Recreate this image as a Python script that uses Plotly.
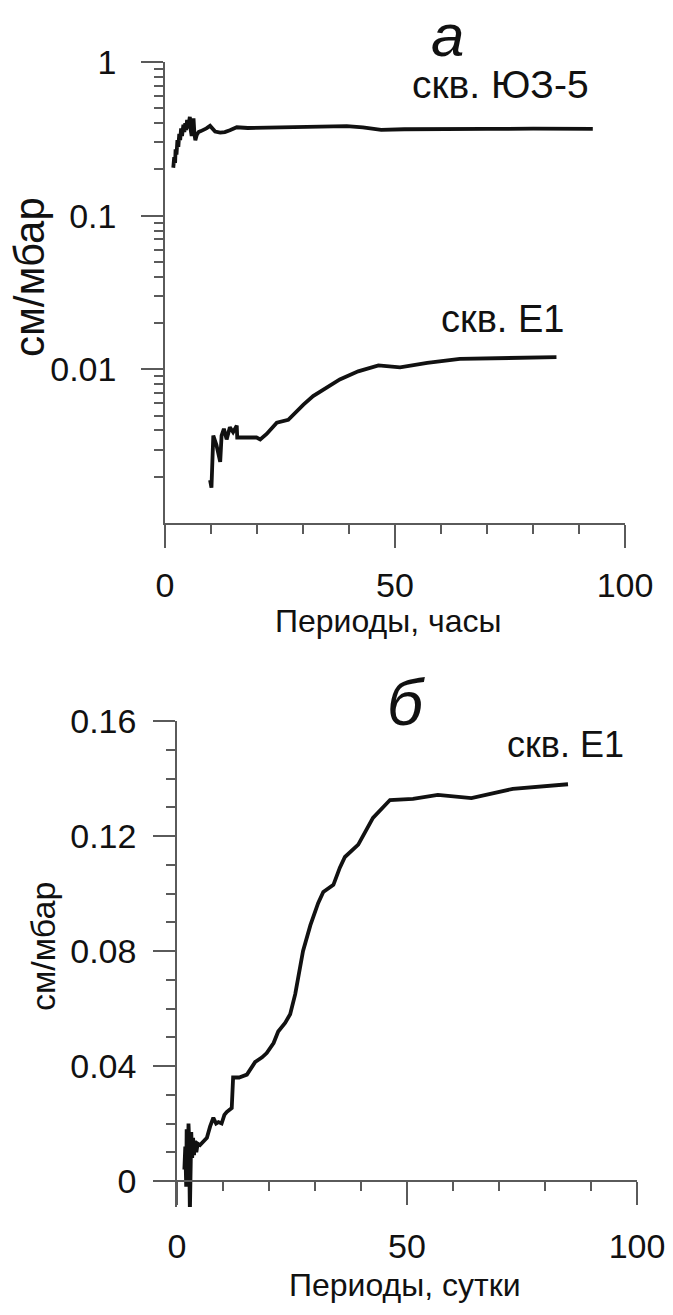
import plotly.graph_objects as go

# ---------------- data: panel a (hours, log scale) ----------------
hours_yz5 = [1.8, 2.0, 2.2, 2.3, 2.5, 2.7, 2.9, 3.1, 3.3, 3.5, 3.7, 4.0, 4.2, 4.4, 4.6,
             4.8, 5.0, 5.2, 5.4, 5.6, 5.8, 6.0, 6.2, 6.4, 6.6, 6.9, 7.3, 7.8, 8.3, 9.0,
             9.8, 10.4, 10.9, 12.0, 13.0, 14.1, 15.6, 18.0, 20.7, 25.0, 29.3, 34.0, 39.5,
             43.0, 47.0, 52.0, 60.0, 70.0, 80.0, 93.0]
vals_yz5 = [0.205, 0.24, 0.22, 0.27, 0.25, 0.31, 0.28, 0.34, 0.31, 0.37, 0.33, 0.39, 0.35,
            0.40, 0.36, 0.42, 0.37, 0.40, 0.44, 0.36, 0.33, 0.40, 0.43, 0.34, 0.31, 0.335,
            0.35, 0.355, 0.36, 0.37, 0.384, 0.365, 0.353, 0.347, 0.35, 0.36, 0.376, 0.372,
            0.373, 0.376, 0.375, 0.38, 0.383, 0.375, 0.362, 0.365, 0.364, 0.367, 0.368, 0.367]

hours_e1 = [9.8, 10.1, 10.5, 11.2, 12.0, 12.3, 12.8, 13.4, 14.1, 14.8, 15.6, 15.7, 19.9,
            20.7, 22.1, 24.3, 26.8, 27.9, 30.1, 32.2, 36.6, 38.0, 42.0, 46.4, 51.1, 57.0,
            64.1, 75.0, 85.1]
vals_e1 = [0.0019, 0.0017, 0.0037, 0.0032, 0.0025, 0.0037, 0.0041, 0.0035, 0.0042, 0.0039,
           0.0043, 0.0036, 0.0036, 0.0035, 0.0038, 0.0045, 0.0047, 0.0051, 0.0059, 0.0067,
           0.0080, 0.0086, 0.0097, 0.0106, 0.0103, 0.0110, 0.0117, 0.0119, 0.0120]

# ---------------- data: panel b (days, linear) ----------------
days_e1 = [1.6, 1.8, 2.0, 2.1, 2.3, 2.5, 2.6, 2.8, 2.9, 3.1, 3.3, 3.5, 3.7, 3.9, 4.2, 4.5,
           5.0, 5.7, 6.5, 7.2, 7.9, 8.5, 9.0, 9.7, 10.3, 10.8, 11.4, 11.9, 12.2, 13.5, 15.2,
           16.0, 17.0, 18.5, 19.5, 21.0, 22.0, 23.5, 24.6, 25.7, 26.7, 27.4, 29.0, 30.7,
           31.8, 34.0, 35.4, 36.5, 39.4, 42.6, 46.3, 51.3, 56.7, 64.0, 73.0, 85.0]
vals_days_e1 = [0.004, 0.012, -0.002, 0.018, 0.002, 0.020, 0.016, -0.011, 0.012, 0.017,
                0.008, 0.015, 0.009, 0.014, 0.010, 0.013, 0.0125, 0.0138, 0.015, 0.019,
                0.022, 0.020, 0.0205, 0.020, 0.023, 0.024, 0.025, 0.0254, 0.036, 0.036,
                0.037, 0.039, 0.0414, 0.043, 0.0445, 0.048, 0.052, 0.055, 0.058, 0.065,
                0.075, 0.080, 0.089, 0.0967, 0.1005, 0.103, 0.109, 0.1127, 0.117, 0.1263,
                0.1325, 0.1329, 0.1343, 0.1332, 0.1364, 0.138]

a_ytick_vals = [0.01, 0.1, 1]
a_ytick_text = ["0.01", "0.1", "1"]
a_yminor = [m * d for d in (0.001, 0.01, 0.1) for m in range(2, 10)]
x_major = [0, 50, 100]
x_minor = [10, 20, 30, 40, 60, 70, 80, 90]
b_ytick_vals = [0, 0.04, 0.08, 0.12, 0.16]
b_ytick_text = ["0", "0.04", "0.08", "0.12", "0.16"]
b_yminor = [0.01, 0.02, 0.03, 0.05, 0.06, 0.07, 0.09, 0.10, 0.11, 0.13, 0.14, 0.15]

W, H = 673, 1315
FONT = "Arial, Liberation Sans, sans-serif"
AX = "#5a5a5a"


def px(x):
    return x / W


def py(y):
    return 1 - y / H


fig = go.Figure()
line = dict(color="#111111", width=3.8)
fig.add_trace(go.Scatter(x=hours_yz5, y=vals_yz5, mode="lines", line=line,
                         xaxis="x", yaxis="y", showlegend=False))
fig.add_trace(go.Scatter(x=hours_e1, y=vals_e1, mode="lines", line=line,
                         xaxis="x", yaxis="y", showlegend=False))
fig.add_trace(go.Scatter(x=days_e1, y=vals_days_e1, mode="lines", line=line,
                         xaxis="x2", yaxis="y2", showlegend=False))

tickfont = dict(family=FONT, size=34, color="#111111")
common = dict(showgrid=False, zeroline=False, showline=True, linecolor=AX, linewidth=1.5,
              ticks="outside", tickcolor=AX, tickwidth=1.5, tickfont=tickfont,
              automargin=False)

fig.update_layout(
    width=W, height=H, margin=dict(l=0, r=0, t=0, b=0, pad=0, autoexpand=False),
    paper_bgcolor="white", plot_bgcolor="white",
    xaxis=dict(domain=[px(165), px(625)], range=[0, 100], anchor="y",
               tickmode="array", tickvals=x_major, ticklen=23, ticklabelstandoff=8,
               minor=dict(tickmode="array", tickvals=x_minor, ticks="outside", ticklen=9,
                          tickcolor=AX, tickwidth=1.5),
               **common),
    yaxis=dict(domain=[py(523), py(62)], type="log", range=[-3, 0], anchor="x",
               tickmode="array", tickvals=a_ytick_vals, ticktext=a_ytick_text,
               ticklen=22, ticklabelstandoff=18,
               minor=dict(tickmode="array", tickvals=a_yminor, ticks="outside", ticklen=9,
                          tickcolor=AX, tickwidth=1.5),
               **common),
    xaxis2=dict(domain=[px(177), px(637)], range=[0, 100], anchor="free",
                position=py(1181),
                tickmode="array", tickvals=x_major, ticklen=23, ticklabelstandoff=12,
                minor=dict(tickmode="array", tickvals=x_minor, ticks="outside", ticklen=9,
                           tickcolor=AX, tickwidth=1.5),
                **common),
    yaxis2=dict(domain=[py(1181 + 0.009 * 115 / 0.04), py(721)], range=[-0.009, 0.16],
                anchor="x2", tickmode="array", tickvals=b_ytick_vals, ticktext=b_ytick_text,
                ticklen=22, ticklabelstandoff=10,
                minor=dict(tickmode="array", tickvals=b_yminor, ticks="outside", ticklen=9,
                           tickcolor=AX, tickwidth=1.5),
                **common),
)


def ann(text, x, y, size, angle=0, italic=False, yanchor="middle"):
    fig.add_annotation(text=text, x=px(x), y=py(y), xref="paper", yref="paper",
                       xanchor="center", yanchor=yanchor, showarrow=False,
                       textangle=angle,
                       font=dict(family=FONT, size=size, color="#111111",
                                 style="italic" if italic else "normal"))


ann("а", 447, 0, 60, italic=True, yanchor="top")
ann("скв. ЮЗ-5", 500, 84, 39)
ann("скв. Е1", 502, 319, 38)
ann("см/мбар", 29, 277, 42, angle=-90)
ann("Периоды, часы", 388, 621, 32)

ann("б", 406, 703, 64, italic=True)
ann("скв. Е1", 565, 744, 36)
ann("см/мбар", 43, 947, 34, angle=-90)
ann("Периоды, сутки", 405, 1285, 32)

fig.write_html("out.html", config={"displayModeBar": False},
               post_script="document.body.style.margin='0';")
